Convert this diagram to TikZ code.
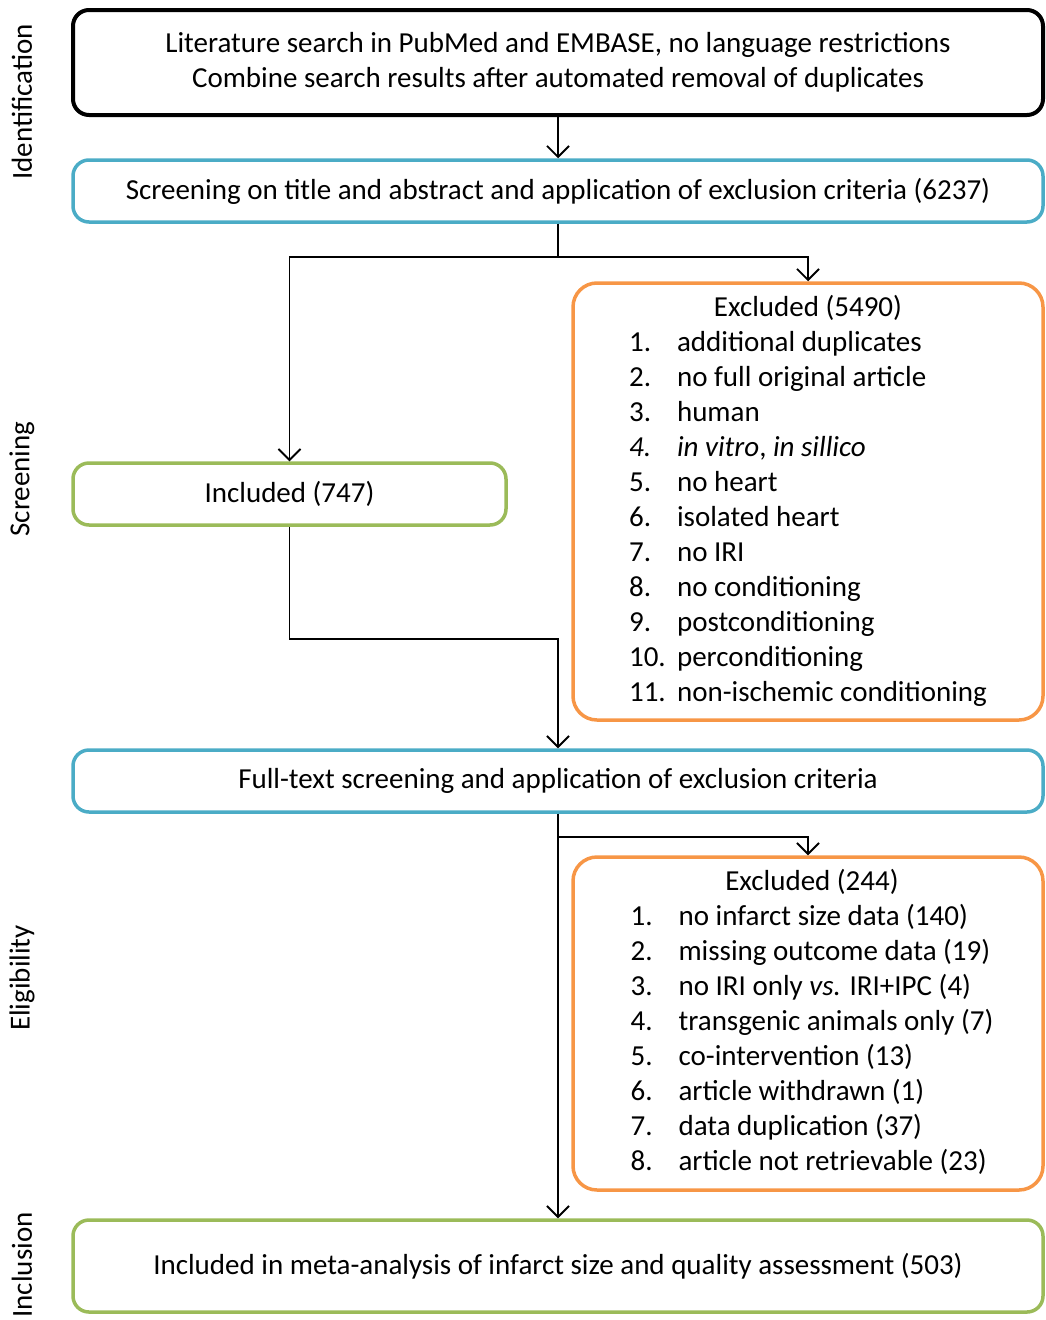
\documentclass[tikz,border=0pt]{standalone}
\usepackage{fontspec}
\setmainfont{Carlito}
\usetikzlibrary{arrows.meta}
\definecolor{boxblue}{HTML}{4BACC6}
\definecolor{boxgreen}{HTML}{9BBB59}
\definecolor{boxorange}{HTML}{F79646}
\begin{document}
\begin{tikzpicture}[x=1pt,y=-1pt,
   font=\fontsize{29}{35}\selectfont,
   >={Straight Barb[length=11pt,width=22pt]},
   box/.style={draw,rounded corners=16pt,line width=3.5pt,align=center,inner sep=0pt},
   link/.style={->,line width=1.8pt},
   phase/.style={rotate=90}]
   \useasboundingbox (0,0) rectangle (1046,1320);
   % phases
   \node[phase] (pid) at (22,102) {Identification};
   \node[phase] (psc) at (22,479) {Screening};
   \node[phase] (pel) at (22,978) {Eligibility};
   \node[phase] (pin) at (22,1265) {Inclusion};
   % boxes
   \node[box,black,line width=4pt,minimum width=970,minimum height=105] (srch) at (558,62.5)
      {Literature search in PubMed and EMBASE, no language restrictions\\
       Combine search results after automated removal of duplicates};
   \node[box,boxblue,text=black,minimum width=970,minimum height=62] (scr) at (558,191)
      {Screening on title and abstract and application of exclusion criteria (6237)};
   \node[box,boxgreen,text=black,minimum width=433,minimum height=62] (inc) at (289.5,494)
      {Included (747)};
   \node[box,boxorange,text=black,rounded corners=24pt,minimum width=470,minimum height=437] (ex1) at (808,501.5)
      {\begin{tabular}{@{}p{48pt}@{}l@{}}
       \multicolumn{2}{c}{Excluded (5490)}\\
       1. & additional duplicates\\
       2. & no full original article\\
       3. & human\\
       \emph{4.} & \emph{in vitro}, \emph{in sillico}\\
       5. & no heart\\
       6. & isolated heart\\
       7. & no IRI\\
       8. & no conditioning\\
       9. & postconditioning\\
       10. & perconditioning\\
       11. & non-ischemic conditioning
       \end{tabular}};
   \node[box,boxblue,text=black,minimum width=970,minimum height=62] (ft) at (558,781)
      {Full-text screening and application of exclusion criteria};
   \node[box,boxorange,text=black,rounded corners=24pt,minimum width=470,minimum height=333] (ex2) at (808,1023.5)
      {\hspace*{8pt}\begin{tabular}{@{}p{48pt}@{}l@{}}
       \multicolumn{2}{c}{Excluded (244)}\\
       1. & no infarct size data (140)\\
       2. & missing outcome data (19)\\
       3. & no IRI only \emph{vs.} IRI+IPC (4)\\
       4. & transgenic animals only (7)\\
       5. & co-intervention (13)\\
       6. & article withdrawn (1)\\
       7. & data duplication (37)\\
       8. & article not retrievable (23)
       \end{tabular}};
   \node[box,boxgreen,text=black,minimum width=970,minimum height=92] (fin) at (558,1266)
      {Included in meta-analysis of infarct size and quality assessment (503)};
   % links
   \draw[link] (srch) -- (scr);
   \draw[link] (scr.south) -- ++(0,33) -| (inc.north);
   \draw[link] (scr.south) -- ++(0,33) -| (ex1.north);
   \draw[link] (inc.south) -- ++(0,112) -| (ft.north);
   \draw[link] (ft) -- (fin);
   \draw[link] (ft.south) -- ++(0,23) -| (ex2.north);
\end{tikzpicture}
\end{document}
